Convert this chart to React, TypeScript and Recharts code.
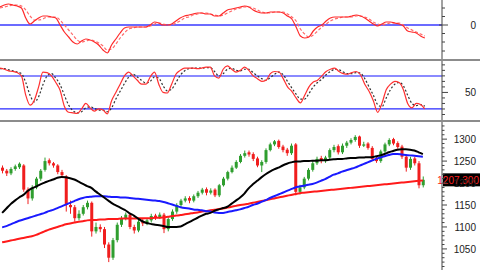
import React from "react";
import { ComposedChart, Line, Bar, XAxis, YAxis, ReferenceLine } from "recharts";

// daily candles
const opens = [1235,1228,1222,1232,1236,1240,1185,1165,1190,1210,
  1230,1252,1245,1240,1225,1215,1150,1145,1120,1130,
  1145,1155,1090,1100,1095,1060,1030,1070,1105,1120,
  1128,1100,1092,1112,1108,1115,1126,1122,1128,1095,
  1118,1135,1150,1160,1166,1160,1170,1178,1186,1178,
  1185,1172,1195,1210,1225,1235,1248,1262,1270,1266,
  1256,1240,1248,1275,1288,1296,1283,1276,1268,1288,
  1180,1190,1210,1230,1245,1257,1250,1258,1275,1284,
  1270,1285,1292,1298,1306,1285,1290,1280,1256,1250,
  1272,1288,1300,1291,1283,1260,1235,1256,1245,1195];
const closes = [1228,1222,1232,1238,1244,1185,1165,1190,1210,1228,
  1250,1245,1240,1225,1218,1150,1145,1120,1130,1145,
  1155,1090,1100,1095,1060,1030,1070,1105,1120,1128,
  1100,1092,1112,1108,1115,1125,1122,1128,1095,1118,
  1135,1150,1160,1165,1160,1170,1178,1185,1178,1183,
  1172,1195,1210,1225,1235,1248,1262,1268,1265,1255,
  1240,1248,1275,1288,1295,1282,1275,1268,1285,1180,
  1190,1210,1230,1245,1255,1250,1258,1275,1282,1270,
  1285,1292,1298,1305,1285,1288,1280,1255,1250,1272,
  1288,1298,1290,1282,1260,1235,1255,1245,1195,1207.3];
const highs = [1240,1232,1236,1242,1247,1243,1190,1195,1214,1232,
  1258,1256,1248,1243,1230,1218,1160,1150,1138,1150,
  1160,1158,1110,1106,1100,1065,1075,1110,1125,1133,
  1132,1105,1116,1118,1120,1130,1130,1133,1132,1122,
  1140,1154,1164,1170,1170,1174,1182,1189,1190,1188,
  1188,1198,1214,1228,1240,1252,1266,1274,1274,1270,
  1260,1252,1279,1292,1298,1299,1287,1280,1290,1291,
  1196,1214,1234,1250,1260,1262,1262,1279,1287,1288,
  1290,1296,1302,1309,1308,1294,1293,1284,1260,1276,
  1292,1302,1303,1295,1287,1264,1260,1260,1250,1215];
const lows = [1222,1216,1218,1228,1232,1180,1152,1160,1186,1205,
  1226,1240,1235,1220,1212,1135,1130,1112,1115,1126,
  1140,1078,1085,1088,1052,1020,1025,1065,1100,1115,
  1095,1085,1088,1102,1104,1110,1116,1118,1086,1090,
  1114,1130,1146,1156,1154,1156,1166,1174,1172,1174,
  1168,1168,1192,1206,1222,1232,1245,1258,1260,1250,
  1236,1225,1244,1272,1284,1278,1270,1262,1264,1172,
  1174,1186,1206,1226,1241,1245,1246,1254,1270,1265,
  1266,1280,1288,1294,1280,1282,1276,1250,1246,1246,
  1268,1284,1286,1278,1255,1226,1230,1240,1188,1190];

// moving averages (black / blue / red)
const maShort = [1132,1142,1152,1160,1167,1173,1182,1188,1192,1197,
  1201,1205,1208,1212,1214,1213,1211,1208,1203,1198,
  1193,1189,1181,1174,1167,1160,1153,1148,1143,1138,
  1131,1126,1119,1113,1109,1107,1105,1104,1102,1100,
  1100,1100,1101,1106,1111,1116,1121,1126,1130,1132,
  1137,1140,1143,1146,1153,1160,1167,1176,1188,1197,
  1205,1213,1220,1226,1231,1235,1240,1244,1247,1249,
  1249,1250,1250,1251,1251,1252,1252,1253,1254,1255,
  1255,1256,1257,1257,1258,1258,1259,1259,1261,1263,
  1266,1270,1273,1276,1277,1277,1276,1274,1270,1266];
const maMid = [1099,1102,1106,1110,1114,1117,1120,1123,1126,1129,
  1132,1136,1139,1143,1147,1151,1155,1159,1163,1166,
  1168,1169,1170,1170,1170,1169,1168,1168,1167,1167,
  1166,1165,1164,1163,1162,1161,1160,1159,1157,1154,
  1151,1148,1145,1143,1142,1140,1139,1138,1136,1135,
  1133,1132,1132,1134,1136,1138,1140,1143,1146,1150,
  1153,1157,1161,1166,1170,1174,1178,1182,1186,1190,
  1192,1194,1196,1198,1201,1205,1209,1214,1219,1222,
  1226,1229,1232,1235,1239,1243,1247,1251,1255,1258,
  1261,1264,1266,1266,1265,1264,1263,1262,1261,1260];
const maLong = [1065,1067,1069,1071,1073,1075,1077,1079,1082,1086,
  1090,1094,1097,1100,1103,1106,1108,1110,1112,1113,
  1115,1116,1116,1117,1117,1118,1118,1118,1119,1119,
  1119,1119,1120,1120,1120,1120,1121,1121,1122,1123,
  1125,1126,1127,1129,1130,1132,1133,1135,1136,1138,
  1139,1141,1142,1144,1146,1148,1150,1151,1153,1155,
  1157,1159,1161,1163,1165,1167,1169,1171,1173,1175,
  1177,1178,1179,1180,1181,1182,1183,1184,1185,1186,
  1187,1188,1189,1190,1191,1192,1193,1194,1195,1196,
  1197,1198,1199,1200,1201,1202,1203,1204,1205,1206];

// top panel oscillator
const macdLine = [18,20,21,20,19,17,7,1,4,7,
  9,9,8,7,0,-7,-12,-17,-19,-16,
  -14,-15,-17,-20,-25,-28,-20,-14,-8,-3,
  -2,-2,-2,-2,-2,0,3,2,0,0,
  1,4,7,9,10,11,12,12,11,11,
  9,9,12,15,16,17,18,19,18,15,
  13,12,12,13,13,13,12,9,6,-2,
  -11,-13,-12,-6,-2,0,4,7,8,8,
  8,8,9,10,9,7,4,1,-1,1,
  3,3,2,1,-1,-6,-7,-8,-11,-13];
const macdSignal = [17,18,19,20,20,19,15,9,5,5,
  6,8,8,8,5,0,-5,-10,-15,-17,
  -16,-15,-16,-18,-21,-25,-24,-19,-13,-8,
  -4,-3,-2,-2,-2,-1,1,2,1,0,
  0,2,4,7,8,10,11,12,12,11,
  10,9,10,12,14,16,17,18,18,17,
  15,13,12,12,13,13,13,11,8,4,
  -4,-9,-12,-10,-6,-2,1,4,6,7,
  8,8,8,9,9,8,6,3,1,0,
  1,2,2,2,0,-3,-5,-7,-9,-11];

// middle panel stochastic
const stochK = [94,92,89,88,86,80,45,27,36,60,
  87,86,80,68,54,25,14,13,12,20,
  30,22,16,20,18,11,35,50,65,80,
  87,80,72,65,65,78,87,65,50,49,
  65,83,90,94,94,94,93,94,96,96,
  80,76,92,98,92,87,90,96,90,80,
  75,70,72,84,88,87,75,60,52,40,
  31,45,60,69,72,80,88,92,94,88,
  84,83,86,88,82,65,52,35,14,30,
  55,65,70,68,55,30,22,30,28,20];
const stochD = [93,93,91,89,87,84,68,45,33,42,
  64,80,84,76,64,45,27,17,13,15,
  22,24,21,18,18,15,22,38,52,66,
  78,83,78,72,67,70,78,76,62,53,
  56,68,81,89,93,94,94,94,95,95,
  88,80,84,92,94,90,89,92,92,86,
  80,75,72,77,83,87,82,70,58,47,
  38,38,48,60,68,74,82,88,92,91,
  87,84,84,86,85,75,60,45,28,24,
  40,55,65,68,62,45,30,26,28,25];

const macdTicks = [-26, -17, -8.5, 0, 8.5, 17];
const stochTicks = [10, 20, 30, 40, 50, 60, 70, 80, 90, 100];
const priceTicks = [1010,1020,1030,1040,1050,1060,1070,1080,1090,1100,1110,1120,1130,1140,1150,
  1160,1170,1180,1190,1200,1210,1220,1230,1240,1250,1260,1270,1280,1290,1300,1310,1320,1330];
const lastClose = 1207.3;
const emptySlots = 4;

const GREEN = "#2f9e2f";
const RED = "#f01e1e";
const AXIS = "#444";
const FONT = "'Liberation Sans', Arial, sans-serif";

const rows = Array.from({ length: closes.length + emptySlots }, (_, i) =>
  i < closes.length
    ? {
        i,
        open: opens[i], close: closes[i], high: highs[i], low: lows[i],
        hl: [lows[i], highs[i]],
        maShort: maShort[i], maMid: maMid[i], maLong: maLong[i],
        macd: macdLine[i], signal: macdSignal[i],
        k: stochK[i], d: stochD[i],
      }
    : { i }
);

function Candle(props: any) {
  const { x, y, width, height, payload } = props;
  if (!payload || payload.open == null) return null;
  const { open, close, high, low } = payload;
  const top = Math.min(y, y + height);
  const h = Math.abs(height);
  const span = high - low || 1;
  const toY = (v: number) => top + ((high - v) / span) * h;
  const color = close >= open ? GREEN : RED;
  const cx = x + width / 2;
  const b1 = toY(Math.max(open, close));
  const b2 = toY(Math.min(open, close));
  return (
    <g>
      <line x1={cx} x2={cx} y1={top} y2={top + h} stroke={color} strokeWidth={1} />
      <rect x={x} y={b1} width={width} height={Math.max(1, b2 - b1)} fill={color} />
    </g>
  );
}

function makeTick(labelled: number, both: boolean) {
  return function Tick(props: any) {
    const { x, y, payload } = props;
    const v = payload.value;
    const major = v === labelled;
    return (
      <g>
        <line x1={both && major ? x - 3 : x} x2={x + (major ? 6 : 3)} y1={y} y2={y} stroke={AXIS} />
        {major && (
          <text x={x + 34} y={y + 4} textAnchor="end" fontSize={10} fontFamily={FONT} fill="#222">
            {v}
          </text>
        )}
      </g>
    );
  };
}

function PriceTick(props: any) {
  const { x, y, payload } = props;
  const v = payload.value;
  const major = v % 50 === 0;
  return (
    <g>
      <line x1={x} x2={x + (major ? 5 : 2.5)} y1={y} y2={y} stroke={AXIS} />
      {major && (
        <text x={x + 34} y={y + 4} textAnchor="end" fontSize={10} fontFamily={FONT} fill="#222">
          {v}
        </text>
      )}
    </g>
  );
}

function PriceTag(props: any) {
  const vb = props.viewBox || {};
  const left = (vb.x ?? 0) + (vb.width ?? 0) + 1;
  const y = vb.y ?? 0;
  return (
    <g>
      <rect x={left} y={y - 6.5} width={37} height={13} fill="#000" />
      <text x={left + 36} y={y + 3.8} textAnchor="end" fontSize={10} fontFamily={FONT} fill="#ff2020">
        {lastClose.toFixed(3)}
      </text>
    </g>
  );
}

const MacdTick = makeTick(0, true);
const StochTick = makeTick(50, false);

const margin = { top: 0, right: 0, bottom: 0, left: 0 };
const divider = { height: 2, background: "#8c8c8c" };

export default function App() {
  return (
    <div style={{ position: "absolute", left: 0, top: 0, width: 480, height: 270, background: "#fff" }}>
      <ComposedChart width={480} height={59} data={rows} margin={margin}>
        <XAxis dataKey="i" type="category" hide />
        <YAxis orientation="right" width={38} domain={[-34, 25]} ticks={macdTicks} interval={0}
          allowDataOverflow tickSize={0} tickMargin={0} tickLine={false}
          axisLine={{ stroke: AXIS }} tick={<MacdTick />} />
        <ReferenceLine y={0} stroke="#3a3aff" strokeWidth={1.5} />
        <Line dataKey="signal" type="monotone" stroke="#ff6a6a" strokeWidth={1.2} strokeDasharray="3 2"
          dot={false} activeDot={false} isAnimationActive={false} />
        <Line dataKey="macd" type="monotone" stroke="#ff2a2a" strokeWidth={1.2}
          dot={false} activeDot={false} isAnimationActive={false} />
      </ComposedChart>
      <div style={divider} />
      <ComposedChart width={480} height={59} data={rows} margin={margin}>
        <XAxis dataKey="i" type="category" hide />
        <YAxis orientation="right" width={38} domain={[0, 107]} ticks={stochTicks} interval={0}
          allowDataOverflow tickSize={0} tickMargin={0} tickLine={false}
          axisLine={{ stroke: AXIS }} tick={<StochTick />} />
        <ReferenceLine y={80} stroke="#8a8aff" strokeWidth={2} />
        <ReferenceLine y={20} stroke="#2828ff" strokeWidth={1.2} />
        <Line dataKey="d" type="monotone" stroke="#333" strokeWidth={1.2} strokeDasharray="2 2"
          dot={false} activeDot={false} isAnimationActive={false} />
        <Line dataKey="k" type="monotone" stroke="#ff3030" strokeWidth={1.2}
          dot={false} activeDot={false} isAnimationActive={false} />
      </ComposedChart>
      <div style={divider} />
      <ComposedChart width={480} height={148} data={rows} margin={margin}>
        <XAxis dataKey="i" type="category" hide />
        <YAxis orientation="right" width={38} domain={[1002, 1339]} ticks={priceTicks}
          interval={0} allowDataOverflow tickSize={0} tickMargin={0} tickLine={false}
          axisLine={{ stroke: AXIS }} tick={<PriceTick />} />
        <Bar dataKey="hl" barSize={3} shape={<Candle />} isAnimationActive={false} />
        <Line dataKey="maLong" type="monotone" stroke="#ff1a1a" strokeWidth={2}
          dot={false} activeDot={false} isAnimationActive={false} />
        <Line dataKey="maMid" type="monotone" stroke="#1a1aff" strokeWidth={2}
          dot={false} activeDot={false} isAnimationActive={false} />
        <Line dataKey="maShort" type="monotone" stroke="#000" strokeWidth={2}
          dot={false} activeDot={false} isAnimationActive={false} />
        <ReferenceLine y={lastClose} stroke="none" ifOverflow="visible" label={<PriceTag />} />
      </ComposedChart>
    </div>
  );
}
